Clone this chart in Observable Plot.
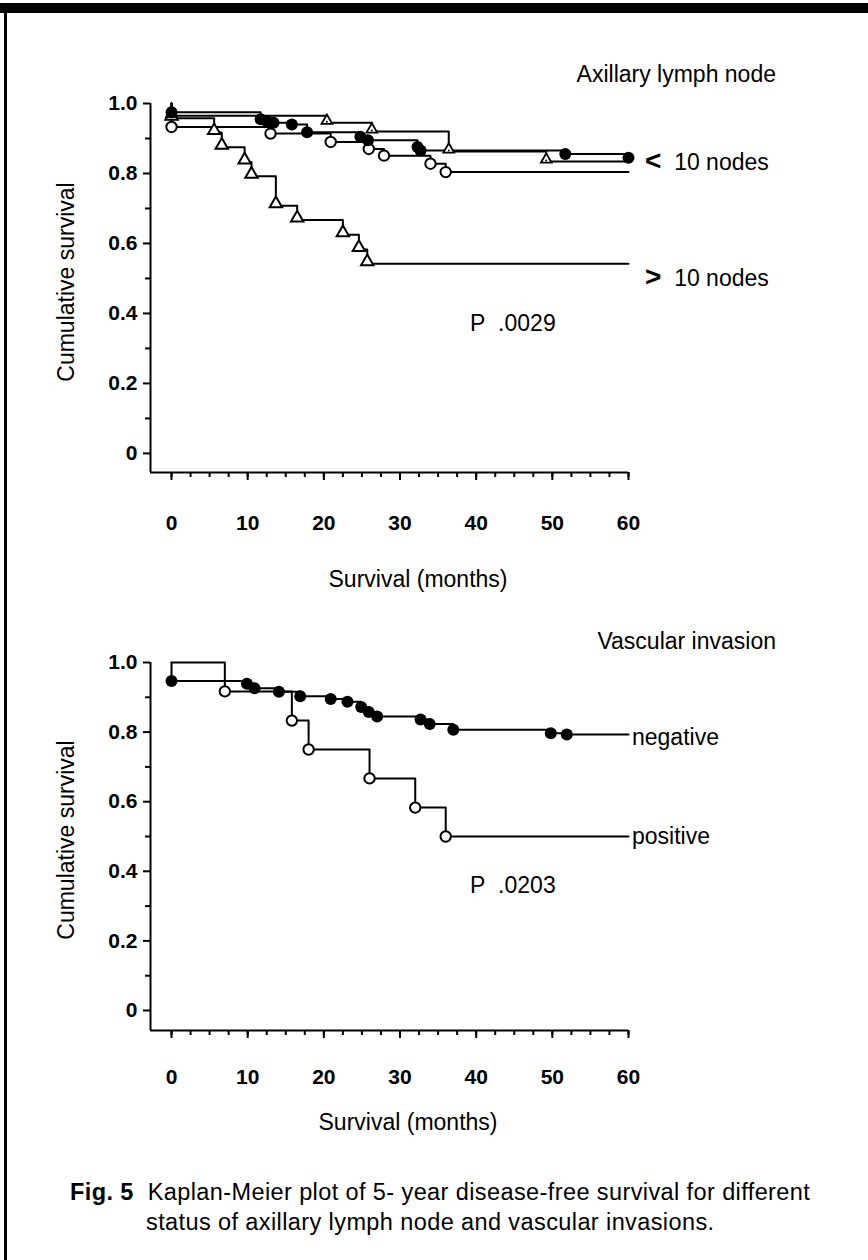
<!DOCTYPE html>
<html><head><meta charset="utf-8">
<script src="https://cdn.jsdelivr.net/npm/d3@7"></script>
<script src="https://cdn.jsdelivr.net/npm/@observablehq/plot@0.6"></script>
<style>
body{margin:0;background:#fff;font-family:"Liberation Sans",Arial,sans-serif;}
#page{position:relative;width:868px;height:1260px;overflow:hidden;background:#fff;}
.t{position:absolute;white-space:nowrap;color:#000;line-height:1;transform:translateY(-50%);}
.plot{position:absolute;left:0;}
</style></head><body><div id="page"></div>
<script>
// ---------- data ----------
const monthTicks = [0, 10, 20, 30, 40, 50, 60];
const monthMinor = d3.range(0, 60.01, 2.5);
const survTicks = [0, 0.2, 0.4, 0.6, 0.8, 1.0];
const survTickLabels = ["0", "0.2", "0.4", "0.6", "0.8", "1.0"];
const survMinor = [0.1, 0.3, 0.5, 0.7, 0.9];
const followUpEnd = 60;

// Axillary lymph node (top panel)
const nodeFilledT = [0, 11.7, 12.5, 13.4, 15.8, 17.8, 24.8, 25.8, 32.3, 32.7, 51.7, 60];
const nodeFilledS = [0.975, 0.955, 0.95, 0.945, 0.94, 0.918, 0.905, 0.895, 0.876, 0.866, 0.856, 0.845];
const nodeDottedT = [0, 20.4, 26.3, 36.4, 49.2];
const nodeDottedS = [0.965, 0.945, 0.92, 0.863, 0.834];
const nodeOpenT = [0, 13, 20.9, 25.9, 27.9, 34, 36];
const nodeOpenS = [0.933, 0.914, 0.89, 0.87, 0.851, 0.828, 0.804];
const nodeOver10T = [0, 5.6, 6.6, 9.6, 10.5, 13.7, 16.5, 22.5, 24.6, 25.7];
const nodeOver10S = [0.958, 0.917, 0.875, 0.833, 0.792, 0.708, 0.667, 0.625, 0.583, 0.542];

// Vascular invasion (bottom panel)
const vascNegT = [0, 9.9, 10.9, 14.1, 16.9, 20.9, 23.1, 24.9, 25.9, 27.0, 32.7, 33.9, 37.0, 49.8, 51.9];
const vascNegS = [0.947, 0.939, 0.926, 0.916, 0.903, 0.895, 0.887, 0.872, 0.858, 0.845, 0.836, 0.823, 0.807, 0.797, 0.793];
const vascPosT = [7, 15.8, 18, 26, 32, 36];
const vascPosS = [0.917, 0.833, 0.75, 0.667, 0.583, 0.5];

// ---------- helpers ----------
const page = document.getElementById("page");
const pts = (T, S) => T.map((t, i) => ({t, s: S[i]}));
const stepPts = (T, S) => [{t: 0, s: 1}, ...pts(T, S), {t: followUpEnd, s: S[S.length - 1]}];

function addText(txt, css) {
  const d = document.createElement("div");
  d.className = "t";
  d.innerHTML = txt;
  Object.assign(d.style, css);
  page.appendChild(d);
  return d;
}

function kmPanel({top, height, marginTop, marginBottom, yMin, tickPadding, series}) {
  const xDom = [-2.76, 60];
  const yDom = [yMin, 1.0];
  const marks = [
    Plot.ruleX([xDom[0]], {stroke: "#000", strokeWidth: 2}),
    Plot.ruleY([yDom[0]], {stroke: "#000", strokeWidth: 2}),
    Plot.axisX(monthTicks, {tickSize: 8, tickPadding, strokeWidth: 2, label: null,
      fontSize: 21, fontWeight: "bold"}),
    Plot.axisX(monthMinor, {tickSize: 5, strokeWidth: 2, label: null, tickFormat: () => ""}),
    Plot.axisY(survTicks, {tickSize: 7, tickPadding: 6, strokeWidth: 2, label: null,
      fontSize: 21, fontWeight: "bold",
      tickFormat: d => survTickLabels[survTicks.indexOf(d)]}),
    Plot.axisY(survMinor, {tickSize: 5, strokeWidth: 2, label: null, tickFormat: () => ""})
  ];
  for (const s of series) {
    marks.push(Plot.line(stepPts(s.T, s.S), {x: "t", y: "s", curve: "step-after", stroke: "#000", strokeWidth: 2}));
  }
  for (const s of series) {
    const p = pts(s.T, s.S);
    if (s.kind === "filled") marks.push(Plot.dot(p, {x: "t", y: "s", r: 6, fill: "#000"}));
    if (s.kind === "open") marks.push(Plot.dot(p, {x: "t", y: "s", r: 5.2, fill: "#fff", stroke: "#000", strokeWidth: 2}));
    if (s.kind === "tri") marks.push(Plot.dot(p, {x: "t", y: "s", symbol: "triangle", r: 4.6, dy: -2, fill: "#fff", stroke: "#000", strokeWidth: 2}));
    if (s.kind === "dottri") {
      marks.push(Plot.dot(p, {x: "t", y: "s", symbol: "triangle", r: 4, dy: -2, fill: "#fff", stroke: "#000", strokeWidth: 1.8}));
      marks.push(Plot.dot(p, {x: "t", y: "s", r: 1, dy: -1, fill: "#000"}));
    }
  }
  const svg = Plot.plot({
    width: 868, height, marginLeft: 150, marginRight: 240, marginTop, marginBottom,
    x: {domain: xDom}, y: {domain: yDom},
    style: {fontFamily: '"Liberation Sans", Arial, sans-serif', fontSize: "21px", color: "#000", background: "transparent"},
    marks
  });
  svg.classList.add("plot");
  svg.style.top = top + "px";
  page.appendChild(svg);
}

// ---------- frame ----------
const bar = document.createElement("div");
Object.assign(bar.style, {position: "absolute", left: "0", top: "3px", width: "868px", height: "10px", background: "#000"});
page.appendChild(bar);
const side = document.createElement("div");
Object.assign(side.style, {position: "absolute", left: "4px", top: "3px", width: "3px", height: "1257px", background: "#000"});
page.appendChild(side);

// ---------- top panel ----------
kmPanel({top: 50, height: 560, marginTop: 53, marginBottom: 138, yMin: -0.0546, tickPadding: 35,
  series: [
    {T: nodeOver10T, S: nodeOver10S, kind: "tri"},
    {T: nodeOpenT, S: nodeOpenS, kind: "open"},
    {T: nodeDottedT, S: nodeDottedS, kind: "dottri"},
    {T: nodeFilledT, S: nodeFilledS, kind: "filled"}
  ]});
addText("Axillary lymph node", {right: "92px", top: "74px", fontSize: "23px"});
addText('<span style="font-size:28px;font-weight:bold">&lt;</span>&nbsp; 10 nodes', {left: "645px", top: "161px", fontSize: "23px"});
addText('<span style="font-size:28px;font-weight:bold">&gt;</span>&nbsp; 10 nodes', {left: "645px", top: "277px", fontSize: "23px"});
addText("P&nbsp; .0029", {left: "470px", top: "323px", fontSize: "23px"});
addText("Cumulative survival", {left: "66px", top: "282px", fontSize: "23px", transform: "translate(-50%,-50%) rotate(-90deg)"});
addText("Survival (months)", {left: "418px", top: "579px", fontSize: "23px", transform: "translate(-50%,-50%)"});

// ---------- bottom panel ----------
kmPanel({top: 620, height: 480, marginTop: 42, marginBottom: 70, yMin: -0.0575, tickPadding: 31,
  series: [
    {T: vascPosT, S: vascPosS, kind: "open"},
    {T: vascNegT, S: vascNegS, kind: "filled"}
  ]});
addText("Vascular invasion", {right: "92px", top: "641px", fontSize: "23px"});
addText("negative", {left: "632px", top: "737px", fontSize: "23px"});
addText("positive", {left: "632px", top: "836px", fontSize: "23px"});
addText("P&nbsp; .0203", {left: "470px", top: "885px", fontSize: "23px"});
addText("Cumulative survival", {left: "66px", top: "840px", fontSize: "23px", transform: "translate(-50%,-50%) rotate(-90deg)"});
addText("Survival (months)", {left: "408px", top: "1122px", fontSize: "23px", transform: "translate(-50%,-50%)"});

// ---------- caption ----------
addText('<b>Fig. 5</b>&nbsp; Kaplan-Meier plot of 5- year disease-free survival for different', {left: "70px", top: "1193px", fontSize: "23.5px", letterSpacing: "0.4px"});
addText('status of axillary lymph node and vascular invasions.', {left: "146px", top: "1223px", fontSize: "23.5px", letterSpacing: "0.4px"});
</script></body></html>
